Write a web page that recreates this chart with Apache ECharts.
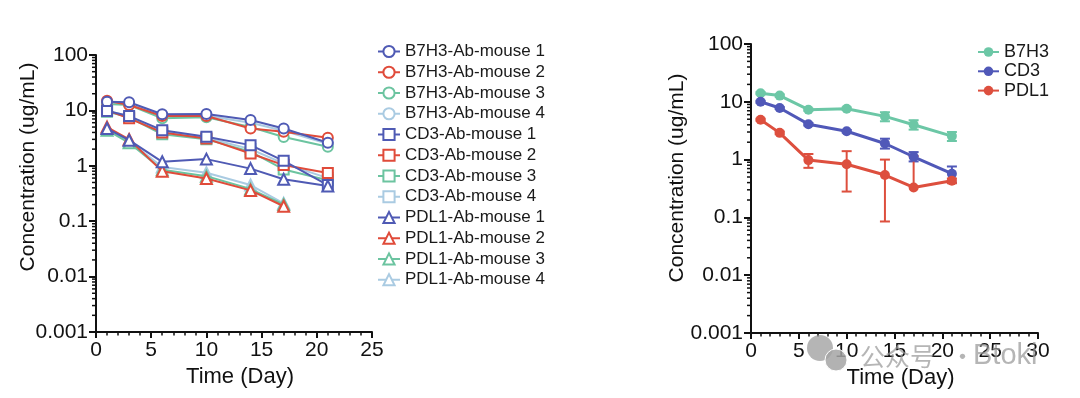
<!DOCTYPE html>
<html>
<head>
<meta charset="utf-8">
<script src="https://cdn.jsdelivr.net/npm/echarts@6/dist/echarts.min.js"></script>
<style>
html, body { margin: 0; padding: 0; background: #fff; }
#chart { width: 1080px; height: 398px; }
</style>
</head>
<body>
<div id="chart"></div>
<script>
// sampling days
var days = [1, 3, 6, 10, 14, 17, 21]
var pdl1ShortDays = [1, 3, 6, 10, 14, 17]

// left panel: each mouse (ug/mL)
var b7h3Mouse1 = [14.3, 14.0, 8.5, 8.6, 6.7, 4.7, 2.6]
var b7h3Mouse2 = [15.0, 12.5, 7.9, 7.9, 4.7, 4.1, 3.2]
var b7h3Mouse3 = [13.0, 12.5, 7.2, 7.5, 5.0, 3.3, 2.2]
var b7h3Mouse4 = [14.0, 13.0, 8.0, 8.0, 6.0, 4.3, 2.5]
var cd3Mouse1 = [9.8, 7.9, 4.4, 3.33, 2.36, 1.23, 0.45]
var cd3Mouse2 = [10.0, 7.2, 4.0, 3.1, 1.67, 1.03, 0.74]
var cd3Mouse3 = [9.5, 7.5, 3.7, 3.0, 1.8, 0.86, 0.55]
var cd3Mouse4 = [10.0, 7.8, 4.2, 3.2, 2.0, 1.1, 0.6]
var pdl1Mouse1 = [4.7, 2.9, 1.18, 1.32, 0.89, 0.57, 0.43]
var pdl1Mouse2 = [5.0, 3.0, 0.8, 0.59, 0.36, 0.186]
var pdl1Mouse3 = [4.4, 2.6, 0.85, 0.65, 0.38, 0.2]
var pdl1Mouse4 = [4.8, 2.8, 0.95, 0.75, 0.45, 0.21]

// right panel: mean, low and high of error bar
var b7h3Mean = [14.1, 12.8, 7.3, 7.6, 5.6, 4.0, 2.55]
var b7h3Low = [13.5, 12.2, 7.0, 7.2, 4.6, 3.3, 2.1]
var b7h3High = [14.7, 13.4, 7.6, 8.0, 6.6, 4.8, 3.0]
var cd3Mean = [10.0, 7.8, 4.1, 3.1, 1.9, 1.12, 0.57]
var cd3Low = [9.6, 7.5, 3.9, 2.95, 1.55, 0.93, 0.40]
var cd3High = [10.4, 8.1, 4.3, 3.25, 2.3, 1.35, 0.76]
var pdl1Mean = [4.9, 2.9, 0.98, 0.83, 0.54, 0.33, 0.43]
var pdl1Low = [4.7, 2.75, 0.72, 0.28, 0.085, 0.33, 0.39]
var pdl1High = [5.1, 3.05, 1.25, 1.40, 1.0, 1.15, 0.47]

var yTickValues = [0.001, 0.01, 0.1, 1, 10]
var minorMultiples = [2, 3, 4, 5, 6, 7, 8, 9]

var FONT = 'Liberation Sans'
var mouseColors = ['#4f5ab4', '#e04b3a', '#6cc4a0', '#aacbe2']
var groupColors = { B7H3: '#6cc7a6', CD3: '#5058b8', PDL1: '#dd4f3e' }

var myChart = echarts.init(document.getElementById('chart'))

function pairs(xs, ys) {
  return ys.map(function(v, i) { return [xs[i], v] })
}

function minorTickData() {
  var out = []
  yTickValues.forEach(function(d) {
    minorMultiples.forEach(function(m) { out.push([0, d * m]) })
  })
  return out
}

function minorTickItem(params, api) {
  var p = api.coord([0, api.value(1)])
  return {
    type: 'line',
    shape: { x1: p[0] - 4, y1: p[1], x2: p[0], y2: p[1] },
    style: { stroke: '#111', lineWidth: 1.5 }
  }
}

function errorBarItem(params, api) {
  var x = api.value(0)
  var mean = api.value(1)
  var low = api.value(2)
  var top = api.coord([x, api.value(3)])
  var bottom = api.coord([x, low])
  var color = api.visual('color')
  var st = { stroke: color, lineWidth: 2 }
  var children = [
    { type: 'line', shape: { x1: top[0], y1: top[1], x2: bottom[0], y2: bottom[1] }, style: st },
    { type: 'line', shape: { x1: top[0] - 5, y1: top[1], x2: top[0] + 5, y2: top[1] }, style: st }
  ]
  if (low < mean) {
    children.push({ type: 'line', shape: { x1: bottom[0] - 5, y1: bottom[1], x2: bottom[0] + 5, y2: bottom[1] }, style: st })
  }
  return { type: 'group', children: children }
}

function errorData(mean, low, high) {
  return days.map(function(d, i) { return [d, mean[i], low[i], high[i]] })
}

function xAxisOpt(idx, max) {
  return {
    gridIndex: idx,
    type: 'value',
    min: 0,
    max: max,
    interval: 5,
    name: 'Time (Day)',
    nameLocation: 'middle',
    nameGap: 28,
    nameTextStyle: { fontFamily: FONT, fontSize: 22, color: '#111', padding: [0, 0, 0, 12] },
    axisLine: { onZero: false, lineStyle: { color: '#111', width: 2 } },
    axisTick: { length: 6, lineStyle: { color: '#111', width: 2 } },
    minorTick: { show: true, splitNumber: 5, length: 3.5, lineStyle: { color: '#111', width: 1.5 } },
    axisLabel: { fontFamily: FONT, fontSize: 21, color: '#111', margin: 8 },
    splitLine: { show: false }
  }
}

function yAxisOpt(idx) {
  return {
    gridIndex: idx,
    type: 'log',
    logBase: 10,
    min: 0.001,
    max: 100,
    axisLine: { show: true, lineStyle: { color: '#111', width: 2 } },
    axisTick: { show: true, length: 7, lineStyle: { color: '#111', width: 2 } },
    axisLabel: {
      fontFamily: FONT, fontSize: 21, color: '#111', margin: 8,
      formatter: function(v) { return String(parseFloat(Number(v).toPrecision(3))) }
    },
    splitLine: { show: false }
  }
}

var series = []
var legendLeft = []

var groups = [
  { name: 'B7H3', symbol: 'emptyCircle', data: [b7h3Mouse1, b7h3Mouse2, b7h3Mouse3, b7h3Mouse4] },
  { name: 'CD3', symbol: 'emptyRect', data: [cd3Mouse1, cd3Mouse2, cd3Mouse3, cd3Mouse4] },
  { name: 'PDL1', symbol: 'emptyTriangle', data: [pdl1Mouse1, pdl1Mouse2, pdl1Mouse3, pdl1Mouse4] }
]
groups.forEach(function(g) {
  for (var m = 0; m < 4; m++) {
    legendLeft.push(g.name + '-Ab-mouse ' + (m + 1))
  }
  // draw mouse 4 first so mouse 1 ends on top
  for (var k = 3; k >= 0; k--) {
    var vals = g.data[k]
    series.push({
      name: g.name + '-Ab-mouse ' + (k + 1),
      type: 'line',
      xAxisIndex: 0,
      yAxisIndex: 0,
      data: pairs(vals.length === 7 ? days : pdl1ShortDays, vals),
      symbol: g.symbol,
      symbolSize: g.symbol === 'emptyTriangle' ? 11 : 10,
      color: mouseColors[k],
      lineStyle: { width: 2 },
      itemStyle: { borderWidth: 2 },
      z: 2 + (3 - k)
    })
  }
})

var rightGroups = [
  { name: 'B7H3', mean: b7h3Mean, low: b7h3Low, high: b7h3High },
  { name: 'CD3', mean: cd3Mean, low: cd3Low, high: cd3High },
  { name: 'PDL1', mean: pdl1Mean, low: pdl1Low, high: pdl1High }
]
rightGroups.forEach(function(g) {
  series.push({
    name: g.name + ' err',
    type: 'custom',
    xAxisIndex: 1,
    yAxisIndex: 1,
    renderItem: errorBarItem,
    color: groupColors[g.name],
    data: errorData(g.mean, g.low, g.high),
    encode: { x: 0, y: 3 },
    silent: true,
    z: 2
  })
})
rightGroups.forEach(function(g) {
  series.push({
    name: g.name,
    type: 'line',
    xAxisIndex: 1,
    yAxisIndex: 1,
    data: pairs(days, g.mean),
    symbol: 'circle',
    symbolSize: 10,
    color: groupColors[g.name],
    lineStyle: { width: 3 },
    z: 3
  })
})

// log minor ticks on both y axes
;[0, 1].forEach(function(i) {
  series.push({
    name: 'minor' + i,
    type: 'custom',
    xAxisIndex: i,
    yAxisIndex: i,
    renderItem: minorTickItem,
    data: minorTickData(),
    encode: { x: 0, y: 1 },
    clip: false,
    silent: true
  })
})

var titleStyle = { fill: '#111', font: '21px "Liberation Sans"', align: 'center', verticalAlign: 'middle' }
var wmFill = 'rgba(150,150,150,0.7)'

var option = {
  animation: false,
  backgroundColor: '#fff',
  grid: [
    { left: 96, top: 55, width: 276, height: 277 },
    { left: 751, top: 44, width: 287, height: 289 }
  ],
  xAxis: [xAxisOpt(0, 25), xAxisOpt(1, 30)],
  yAxis: [yAxisOpt(0), yAxisOpt(1)],
  legend: [
    {
      data: legendLeft,
      orient: 'vertical',
      left: 377,
      top: 43,
      padding: 0,
      itemWidth: 22,
      itemHeight: 14,
      itemGap: 3.75,
      textStyle: { fontFamily: FONT, fontSize: 17, color: '#1a1a1a' },
      selectedMode: false
    },
    {
      data: ['B7H3', 'CD3', 'PDL1'],
      orient: 'vertical',
      left: 977,
      top: 43,
      padding: 0,
      itemWidth: 21,
      itemHeight: 12,
      itemGap: 1.3,
      textStyle: { fontFamily: FONT, fontSize: 18, color: '#1a1a1a' },
      selectedMode: false
    }
  ],
  graphic: [
    { type: 'text', x: 28, y: 167, rotation: Math.PI / 2, style: Object.assign({ text: 'Concentration (ug/mL)' }, titleStyle) },
    { type: 'text', x: 677, y: 178, rotation: Math.PI / 2, style: Object.assign({ text: 'Concentration (ug/mL)' }, titleStyle) },
    // watermark
    { type: 'circle', shape: { cx: 820, cy: 348, r: 13 }, style: { fill: wmFill }, z: 100 },
    { type: 'circle', shape: { cx: 836, cy: 360, r: 11 }, style: { fill: 'rgba(165,165,165,0.85)', stroke: '#fff', lineWidth: 1 }, z: 101 },
    { type: 'text', x: 860, y: 356, style: { text: '公众号', fill: wmFill, font: '25px "Noto Sans CJK SC"', verticalAlign: 'middle' }, z: 100 },
    { type: 'text', x: 950, y: 356, style: { text: '·', fill: wmFill, font: '25px "Noto Sans CJK SC"', verticalAlign: 'middle' }, z: 100 },
    { type: 'text', x: 973, y: 356, style: { text: 'Btoki', fill: wmFill, font: '29px "Liberation Sans"', verticalAlign: 'middle' }, z: 100 }
  ],
  series: series
}

myChart.setOption(option)
</script>
</body>
</html>
